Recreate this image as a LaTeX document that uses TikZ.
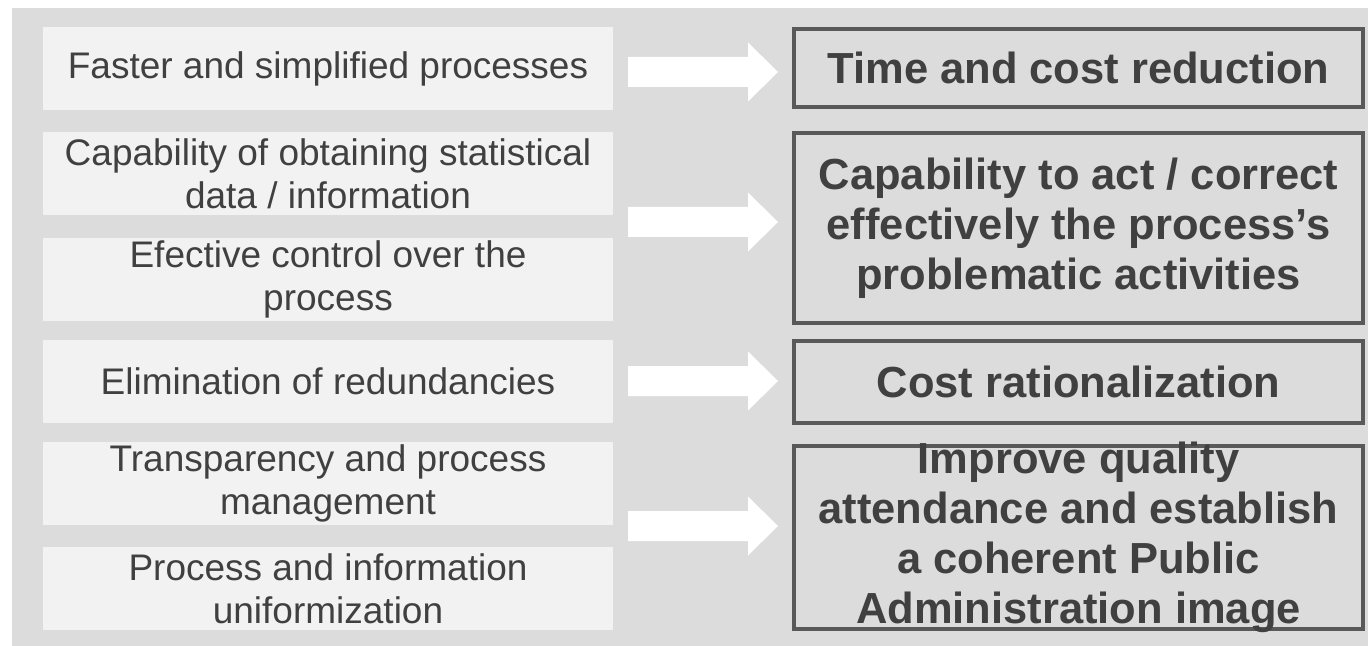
\documentclass[tikz,border=0pt]{standalone}
\usepackage{fontspec}
\setmainfont{Liberation Sans}
\usepackage{xcolor}
\definecolor{bgg}{HTML}{DCDCDC}
\definecolor{lbox}{HTML}{F2F2F2}
\definecolor{rline}{HTML}{595959}
\definecolor{txt}{HTML}{404040}
\usetikzlibrary{positioning}
\tikzset{
  srcbox/.style={fill=lbox, text=txt, minimum width=285pt, minimum height=41.5pt,
    inner sep=0pt, align=center, font=\fontsize{18.5}{21.3}\selectfont},
  goalbox/.style={draw=rline, line width=2pt, minimum width=284.5pt, inner sep=0pt},
  goaltext/.style={text=txt, align=center, inner sep=0pt,
    font=\fontsize{21.75}{25}\selectfont\bfseries}
}
\begin{document}
\begin{tikzpicture}[x=0.5pt,y=-0.5pt]
\useasboundingbox (0,0) rectangle (1368,646);
\fill[bgg] (12,8) rectangle (1368,646); % background

% left column
\node[srcbox] (l1) at (328,68.5) {Faster and simplified processes};
\node[srcbox] (l2) at (328,173.5) {Capability of obtaining statistical\\data / information};
\node[srcbox] (l3) at (328,279.5) {Efective control over the\\process};
\node[srcbox] (l4) at (328,381.5) {Elimination of redundancies};
\node[srcbox] (l5) at (328,483.5) {Transparency and process\\management};
\node[srcbox] (l6) at (328,588.5) {Process and information\\uniformization};

% right column
\node[goalbox, goaltext, minimum height=39pt] (r1) at (1078.5,68) {Time and cost reduction};
\node[goalbox, goaltext, minimum height=95pt] (r2) at (1078.5,228) {Capability to act / correct\\effectively the process’s\\problematic activities};
\node[goalbox, goaltext, minimum height=41pt] (r3) at (1078.5,382) {Cost rationalization};
\node[goalbox, minimum height=91.5pt] (r4) at (1078.5,537.5) {};
\node[goaltext] (t4) at (r4) {Improve quality\\attendance and establish\\a coherent Public\\Administration image};

% arrows
\foreach \y in {72,222,381,526}
  \fill[white] (628,\y-15) -- (748,\y-15) -- (748,\y-29.5) -- (778,\y)
    -- (748,\y+29.5) -- (748,\y+15) -- (628,\y+15) -- cycle;
\end{tikzpicture}
\end{document}
